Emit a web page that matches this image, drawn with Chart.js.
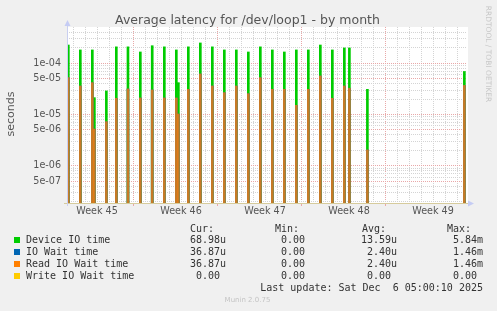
<!DOCTYPE html>
<html>
<head>
<meta charset="utf-8">
<script src="https://cdn.jsdelivr.net/npm/chart.js@4/dist/chart.umd.min.js"></script>
<style>
  body { margin: 0; background: #f0f0f0; }
  #wrap { position: relative; width: 497px; height: 311px; overflow: hidden; background: #f0f0f0; }
  #wrap canvas { position: absolute; left: 0; top: 0; }
  .t { position: absolute; white-space: pre; font-family: "DejaVu Sans", sans-serif; color: #555; }
  .m { position: absolute; white-space: pre; font-family: "DejaVu Sans Mono", monospace; font-size: 10px; line-height: 12px; color: #333; }
  .sq { position: absolute; width: 6px; height: 6px; }
</style>
</head>
<body>
<div id="wrap">
  <canvas id="chart" width="497" height="311"></canvas>
  <div class="t" style="left:0;width:495px;text-align:center;top:12px;font-size:12.5px;line-height:15px;">Average latency for /dev/loop1 - by month</div>
  <div class="t" style="left:-19px;top:107px;width:60px;text-align:center;font-size:11px;line-height:14px;transform:rotate(-90deg);">seconds</div>
  <div class="t" style="left:438px;top:49px;width:100px;text-align:center;font-size:7.5px;line-height:10px;color:#c8c8c8;transform:rotate(90deg);">RRDTOOL / TOBI OETIKER</div>
  <div id="legend"></div>
  <div class="t" style="left:0;width:495px;text-align:center;top:295px;font-size:7px;line-height:10px;color:#c4c4c4;">Munin 2.0.75</div>
</div>
<script>
// x in days from the left edge of the graph (2h samples, 12px per day)
const spikeDays = [0.11, 1.11, 2.11, 2.28, 3.28, 4.11, 5.08, 6.11, 7.1, 8.11, 9.11, 9.28, 10.11, 11.11, 12.11,
  13.11, 14.11, 15.11, 16.11, 17.11, 18.11, 19.11, 20.11, 21.11, 22.11, 23.11, 23.53, 25.03, 33.11];
const deviceIO = [2.27e-4, 1.82e-4, 1.82e-4, 2.13e-5, 2.88e-5, 2.09e-4, 2.09e-4, 1.66e-4, 2.2e-4, 2.09e-4,
  1.82e-4, 4.18e-5, 2.09e-4, 2.49e-4, 2.09e-4, 1.82e-4, 1.82e-4, 1.66e-4, 2.09e-4, 1.82e-4, 1.66e-4,
  1.82e-4, 1.82e-4, 2.27e-4, 1.82e-4, 1.99e-4, 1.99e-4, 3.1e-5, 6.9e-5];
const readWait = [5.24e-5, 3.6e-5, 4.18e-5, 5.2e-6, 7.24e-6, 2.07e-5, 3.15e-5, 2.1e-5, 3.01e-5, 2.1e-5,
  2.1e-5, 1.02e-5, 3.1e-5, 6.18e-5, 3.6e-5, 2.67e-5, 3.6e-5, 2.55e-5, 5.24e-5, 3.1e-5, 3.1e-5,
  1.51e-5, 3.1e-5, 5.65e-5, 2.07e-5, 3.6e-5, 3.25e-5, 2.03e-6, 3.69e-5];
const ioWait = [5.24e-5, 3.6e-5, 4.18e-5, 5.2e-6, 7.24e-6, 2.07e-5, 3.15e-5, 2.1e-5, 3.01e-5, 2.1e-5,
  2.1e-5, 1.02e-5, 3.1e-5, 6.18e-5, 3.6e-5, 2.67e-5, 3.6e-5, 2.55e-5, 5.24e-5, 3.1e-5, 3.1e-5,
  1.51e-5, 3.1e-5, 5.65e-5, 2.07e-5, 3.6e-5, 3.25e-5, 2.03e-6, 3.69e-5];

// axis ticks
const dayLines = [0, 1, 2, 3, 4, 5, 6, 7, 8, 9, 10, 11, 12, 13, 14, 15, 16, 17, 18, 19, 20,
  21, 22, 23, 24, 25, 26, 27, 28, 29, 30, 31, 32, 33];
const weekLines = [6, 13, 20, 27];
const weekLabelDays = [2.5, 9.5, 16.5, 23.5, 30.5];
const weekLabels = ['Week 45', 'Week 46', 'Week 47', 'Week 48', 'Week 49'];
const yGrid = [2e-7, 3e-7, 4e-7, 5e-7, 6e-7, 7e-7, 8e-7, 9e-7,
  1e-6, 2e-6, 3e-6, 4e-6, 5e-6, 6e-6, 7e-6, 8e-6, 9e-6,
  1e-5, 2e-5, 3e-5, 4e-5, 5e-5, 6e-5, 7e-5, 8e-5, 9e-5,
  1e-4, 2e-4, 3e-4, 4e-4];
const yLabelValues = [5e-7, 1e-6, 5e-6, 1e-5, 5e-5, 1e-4];
const yLabels = ['5e-07', '1e-06', '5e-06', '1e-05', '5e-05', '1e-04'];

// legend table
const seriesNames = ['Device IO time', 'IO Wait time', 'Read IO Wait time', 'Write IO Wait time'];
const seriesColors = ['#00cc00', '#0066b3', '#ff8000', '#ffcc00'];
const curVals = ['68.98u', '36.87u', '36.87u', '0.00 '];
const minVals = ['0.00 ', '0.00 ', '0.00 ', '0.00 '];
const avgVals = ['13.59u', '2.40u', '2.40u', '0.00 '];
const maxVals = ['5.84m', '1.46m', '1.46m', '0.00 '];
const lastUpdate = 'Last update: Sat Dec  6 05:00:10 2025';

const GRID_GRAY = '#d4d4d4';
const GRID_RED = '#e9a8a8';

function toPoints(values) {
  return spikeDays.map((d, i) => ({ x: d, y: values[i] }));
}

const plotBg = {
  id: 'plotBg',
  beforeDraw(chart) {
    const { ctx, chartArea: a } = chart;
    ctx.save();
    ctx.fillStyle = '#ffffff';
    ctx.fillRect(a.left, a.top, a.right - a.left + 1, a.bottom - a.top);
    ctx.restore();
  },
  afterDatasetsDraw(chart) {
    const { ctx, chartArea: a } = chart;
    ctx.save();
    // bottom axis
    ctx.strokeStyle = '#d6cb9c';
    ctx.lineWidth = 1;
    ctx.beginPath();
    ctx.moveTo(a.left - 3, a.bottom + 0.5);
    ctx.lineTo(a.right + 1, a.bottom + 0.5);
    ctx.stroke();
    // left axis
    ctx.strokeStyle = '#c9cff0';
    ctx.beginPath();
    ctx.moveTo(a.left + 0.5, a.bottom + 3);
    ctx.lineTo(a.left + 0.5, a.top - 3);
    ctx.stroke();
    // arrows
    ctx.fillStyle = '#c5ccf4';
    ctx.beginPath();
    ctx.moveTo(a.left - 2.5, a.top - 1);
    ctx.lineTo(a.left + 3.5, a.top - 1);
    ctx.lineTo(a.left + 0.5, a.top - 7);
    ctx.closePath();
    ctx.fill();
    ctx.beginPath();
    ctx.moveTo(a.right + 1, a.bottom - 2.5);
    ctx.lineTo(a.right + 1, a.bottom + 3.5);
    ctx.lineTo(a.right + 7, a.bottom + 0.5);
    ctx.closePath();
    ctx.fill();
    ctx.restore();
  }
};

new Chart(document.getElementById('chart'), {
  type: 'bar',
  data: {
    datasets: [
      { label: 'Device IO time', data: toPoints(deviceIO), backgroundColor: '#00cc00', order: 3 },
      { label: 'IO Wait time', data: toPoints(ioWait), backgroundColor: '#0066b3', order: 2 },
      { label: 'Read IO Wait time', data: toPoints(readWait), backgroundColor: 'rgba(255,128,0,0.78)', order: 1 }
    ]
  },
  options: {
    responsive: false,
    animation: false,
    events: [],
    layout: { padding: { left: 0, top: 27, right: 30, bottom: 88 } },
    datasets: {
      bar: { grouped: false, maxBarThickness: 2, barPercentage: 1, categoryPercentage: 1, borderWidth: 0 }
    },
    plugins: { legend: { display: false }, tooltip: { enabled: false }, title: { display: false } },
    scales: {
      x: {
        type: 'linear',
        min: 0,
        max: 33.33,
        offset: false,
        bounds: 'data',
        afterBuildTicks: (scale) => {
          scale.ticks = dayLines.concat(weekLabelDays).map((v) => ({ value: v }));
        },
        afterFit: (scale) => { scale.height = 20; },
        grid: {
          drawTicks: true,
          tickLength: 3,
          color: (ctx) => {
            const v = ctx.tick ? ctx.tick.value : 0;
            if (weekLabelDays.includes(v)) return 'rgba(0,0,0,0)';
            return weekLines.includes(v) ? GRID_RED : GRID_GRAY;
          },
          tickColor: (ctx) => {
            const v = ctx.tick ? ctx.tick.value : 0;
            return weekLines.includes(v) ? GRID_RED : 'rgba(0,0,0,0)';
          }
        },
        border: { display: false, dash: [1, 1] },
        ticks: {
          autoSkip: false,
          maxRotation: 0,
          padding: 0,
          color: '#555',
          font: { family: 'DejaVu Sans', size: 9.6 },
          callback: (v) => {
            const i = weekLabelDays.indexOf(v);
            return i >= 0 ? weekLabels[i] : '';
          }
        }
      },
      y: {
        type: 'logarithmic',
        min: 1.87e-7,
        max: 5.1e-4,
        bounds: 'data',
        afterBuildTicks: (scale) => {
          scale.ticks = yGrid.map((v) => ({ value: v }));
        },
        afterFit: (scale) => { scale.width = 67; },
        grid: {
          drawTicks: false,
          color: (ctx) => {
            const v = ctx.tick ? ctx.tick.value : 0;
            return yLabelValues.includes(v) ? GRID_RED : GRID_GRAY;
          }
        },
        border: { display: false, dash: [1, 1] },
        ticks: {
          autoSkip: false,
          padding: 6,
          color: '#555',
          font: { family: 'DejaVu Sans', size: 9.6 },
          callback: (v) => {
            const i = yLabelValues.indexOf(v);
            return i >= 0 ? yLabels[i] : '';
          }
        }
      }
    }
  },
  plugins: [plotBg]
});

// legend below the graph, monospace like rrdtool
const legend = document.getElementById('legend');
function addText(text, style) {
  const d = document.createElement('div');
  d.className = 'm';
  d.textContent = text;
  Object.assign(d.style, style);
  legend.appendChild(d);
}
const rowCenters = [239.5, 251.5, 263.5, 275.5];
addText('Cur:', { left: '190px', top: '222.5px' });
addText('Min:', { left: '275px', top: '222.5px' });
addText('Avg:', { left: '362px', top: '222.5px' });
addText('Max:', { left: '447px', top: '222.5px' });
seriesNames.forEach((name, i) => {
  const c = rowCenters[i];
  const sq = document.createElement('div');
  sq.className = 'sq';
  sq.style.left = '14px';
  sq.style.top = (c - 3) + 'px';
  sq.style.background = seriesColors[i];
  legend.appendChild(sq);
  const top = (c - 5.8) + 'px';
  addText(name, { left: '26px', top });
  addText(curVals[i], { right: (497 - 226) + 'px', top });
  addText(minVals[i], { right: (497 - 311) + 'px', top });
  addText(avgVals[i], { right: (497 - 397) + 'px', top });
  addText(maxVals[i], { right: (497 - 483) + 'px', top });
});
addText(lastUpdate, { right: (497 - 483) + 'px', top: '281.5px' });
</script>
</body>
</html>
